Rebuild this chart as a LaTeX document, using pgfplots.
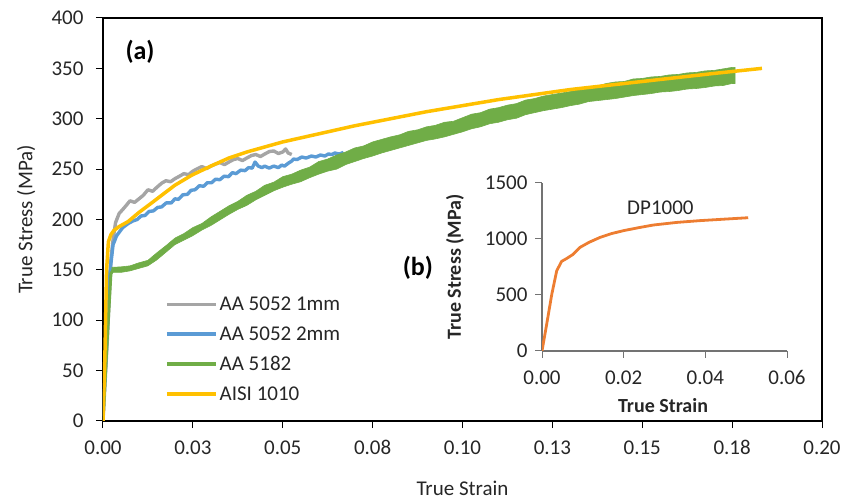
\documentclass[border=0pt]{standalone}
\usepackage{fontspec}
\setmainfont{Carlito}
\usepackage{pgfplots}
\pgfplotsset{compat=1.18}
\definecolor{cgray}{HTML}{A5A5A5}
\definecolor{cblue}{HTML}{5B9BD5}
\definecolor{cgreen}{HTML}{70AD47}
\definecolor{cyellow}{HTML}{FFC000}
\definecolor{corange}{HTML}{ED7D31}
\definecolor{ctext}{HTML}{262626}
\newcommand{\fs}{\fontsize{21}{25}\selectfont}
\begin{document}
\begin{tikzpicture}
\useasboundingbox (-103pt,-79pt) rectangle (740pt,421pt);
\begin{axis}[
  name=main,
  at={(0pt,0pt)}, anchor=south west,
  width=719pt, height=403pt, scale only axis,
  xmin=0, xmax=0.2, ymin=0, ymax=400,
  xtick={0,0.025,0.05,0.075,0.1,0.125,0.15,0.175,0.2},
  xticklabels={0.00,0.03,0.05,0.08,0.10,0.13,0.15,0.18,0.20},
  ytick={0,50,100,150,200,250,300,350,400},
  scaled ticks=false,
  axis lines=box,
  tick align=outside,
  xtick pos=bottom, ytick pos=left,
  major tick length=7pt,
  every tick/.style={black, line width=1pt},
  axis line style={black, line width=1.3pt},
  /pgf/number format/assume math mode=true,
  /pgf/number format/set thousands separator={},
  tick label style={font=\fs, text=ctext},
  xticklabel style={yshift=-9pt},
  yticklabel style={xshift=-9pt},
  xlabel={True Strain}, ylabel={True Stress (MPa)},
  label style={font=\fs, text=ctext},
  xlabel style={at={(axis description cs:0.5,-0.166)}, anchor=center},
  ylabel style={at={(axis description cs:-0.107,0.5)}, anchor=center},
  legend style={at={(axis description cs:0.082,0.318)}, anchor=north west,
    draw=none, fill=none, font=\fs, text=ctext, row sep=10.5pt},
  legend cell align=left,
  legend image code/.code={\draw[#1, line width=3.5pt] (0pt,0pt) -- (49pt,0pt);},
]
\addplot[forget plot, black, line width=2.8pt] coordinates {(0,400)(0.2,400)(0.2,0)};
\addplot[cgray, line width=3.4pt, line join=round] coordinates {
(0,0)(0.0012,80)(0.0022,160)(0.0028,180)(0.0035,197)(0.0045,206)(0.006,212)(0.0075,218.5)(0.0088,217)(0.01,220.5)(0.0112,224)(0.0125,229.5)(0.0138,228)(0.015,232)(0.0163,236)(0.0175,238.5)(0.0188,237.5)(0.02,240.5)(0.0213,243)(0.0225,245.5)(0.0238,244.5)(0.025,248)(0.0263,250.5)(0.0275,252.5)(0.0288,250.5)(0.03,253)(0.0313,255)(0.0325,256.5)(0.0338,254.5)(0.035,257)(0.0363,259.5)(0.0375,260.5)(0.0388,258.5)(0.04,261)(0.0413,263.5)(0.0425,264.5)(0.0438,262.5)(0.045,265)(0.0463,267.5)(0.0475,268)(0.0488,265.5)(0.05,267)(0.0508,270)(0.0515,266)(0.0525,264.5)
};
\addlegendentry{AA 5052 1mm}
\addplot[cblue, line width=3.4pt, line join=round] coordinates {
(0,5)(0.0008,60)(0.0019,147)(0.0028,175)(0.0038,184)(0.0055,192)(0.007,196)(0.0083,198.5)(0.0095,200)(0.0106,203.5)(0.0117,204)(0.0128,208)(0.014,208.5)(0.0152,212)(0.0163,212.5)(0.0176,216.5)(0.019,216.5)(0.02,220.5)(0.021,220)(0.0222,224.5)(0.0235,225)(0.0245,229)(0.0256,229.5)(0.0268,233.5)(0.028,233)(0.029,236.5)(0.0302,236.5)(0.0313,240)(0.0325,239.5)(0.0337,243)(0.0349,242.5)(0.036,246.5)(0.037,245.5)(0.0383,249)(0.0395,248.5)(0.0405,251.5)(0.0415,251)(0.0423,257)(0.0432,253)(0.0442,251.5)(0.045,253)(0.0462,251)(0.0475,253)(0.0488,251.5)(0.0497,254)(0.0505,253)(0.0516,256)(0.0525,258)(0.053,260)(0.054,259.5)(0.0553,262)(0.0565,261)(0.058,263)(0.0592,262)(0.0605,264)(0.0617,263)(0.0627,265)(0.0637,264.5)(0.0645,266)(0.0657,265)(0.0669,266.5)
};
\addlegendentry{AA 5052 2mm}
\addplot[cgreen, line width=3pt, line join=round] coordinates {
(0,0)(0.001,70)(0.0022,146)(0.0028,150)(0.005,150)(0.0075,151.5)(0.01,154)(0.0125,157)
};
\addlegendentry{AA 5182}
\addplot[forget plot, draw=cgreen, fill=cgreen, line width=0.6pt] coordinates {
(0.0025,152.5)(0.005,153)(0.0075,154)(0.01,157)(0.0125,159.5)(0.015,167)(0.0175,174)(0.02,181.5)(0.0225,186)(0.025,192)(0.0275,196)(0.03,202.5)(0.0325,208)(0.035,213.5)(0.0375,218)(0.04,224)(0.0425,228)(0.045,234)(0.0475,237)(0.05,242.5)(0.0525,245)(0.055,249)(0.0575,252)(0.06,257.5)(0.0625,260)(0.065,264)(0.0675,267)(0.07,271)(0.0725,273)(0.075,277)(0.0775,279.5)(0.08,282)(0.0825,284)(0.085,287.5)(0.0875,289)(0.09,292)(0.0925,293.5)(0.095,296.5)(0.0975,297.5)(0.1,301)(0.1025,304.5)(0.105,306)(0.1075,309.5)(0.11,311)(0.1125,313.5)(0.115,315)(0.1175,318.5)(0.12,320)(0.1225,322.5)(0.125,324)(0.1275,325.5)(0.13,327)(0.1325,329.5)(0.135,331)(0.1375,332.5)(0.14,335)(0.1425,336.5)(0.145,337)(0.1475,339.5)(0.15,340)(0.1525,341.5)(0.155,342)(0.1575,343.5)(0.16,344)(0.1625,345.5)(0.165,346)(0.1675,347.5)(0.17,348)(0.1725,349.5)(0.175,351)(0.1758,351)
(0.1758,335)(0.175,335)(0.1725,333)(0.17,332.5)(0.1675,331)(0.165,330)(0.1625,329.5)(0.16,328)(0.1575,327)(0.155,326.5)(0.1525,325)(0.15,324)(0.1475,323)(0.145,321.5)(0.1425,320)(0.14,319)(0.1375,318)(0.135,317)(0.1325,314.5)(0.13,313)(0.1275,311)(0.125,309.5)(0.1225,308)(0.12,306)(0.1175,304)(0.115,300.5)(0.1125,299)(0.11,296.5)(0.1075,295)(0.105,292)(0.1025,290)(0.1,287)(0.0975,284.5)(0.095,282)(0.0925,280)(0.09,278.5)(0.0875,276)(0.085,273.5)(0.0825,271)(0.08,268.5)(0.0775,266)(0.075,263)(0.0725,260.5)(0.07,257.5)(0.0675,254.5)(0.065,250)(0.0625,248)(0.06,245)(0.0575,241.5)(0.055,237.5)(0.0525,235)(0.05,232)(0.0475,228.5)(0.045,224)(0.0425,219.5)(0.04,214)(0.0375,210)(0.035,205)(0.0325,199.5)(0.03,194)(0.0275,189.5)(0.025,184)(0.0225,179.5)(0.02,175)(0.0175,167.5)(0.015,160)(0.0125,154)(0.01,151.5)(0.0075,149)(0.005,147.5)(0.0025,147.5)
} -- cycle;
\addplot[cyellow, line width=3.5pt, line join=round] coordinates {
(0,0)(0.0005,60)(0.001,150)(0.0015,178)(0.0022,185)(0.003,189)(0.0045,193)(0.007,198)(0.01,207)(0.013,215)(0.0163,224)(0.02,234)(0.0247,244)(0.03,253)(0.035,261)(0.04,267)(0.045,272)(0.05,277)(0.055,281)(0.06,285)(0.065,289)(0.07,293)(0.08,300)(0.09,307)(0.1,313)(0.11,319)(0.12,324)(0.13,329)(0.14,333)(0.15,337)(0.16,341)(0.17,345)(0.1833,350)
};
\addlegendentry{AISI 1010}
\node[font=\bfseries\fontsize{26}{30}\selectfont, text=black] at (rel axis cs:0.0515,0.916) {(a)};
\node[font=\bfseries\fontsize{26}{30}\selectfont, text=black] at (rel axis cs:0.438,0.38) {(b)};
\end{axis}
\begin{axis}[
  at={(439pt,70pt)}, anchor=south west,
  width=245pt, height=168pt, scale only axis,
  xmin=0, xmax=0.06, ymin=0, ymax=1500,
  xtick={0,0.02,0.04,0.06}, xticklabels={0.00,0.02,0.04,0.06},
  ytick={0,500,1000,1500},
  scaled ticks=false,
  axis lines*=left,
  tick align=outside,
  major tick length=7pt,
  every tick/.style={black!55, line width=1pt},
  axis line style={black!55, line width=1.2pt},
  /pgf/number format/assume math mode=true,
  /pgf/number format/set thousands separator={},
  tick label style={font=\fs, text=ctext},
  xticklabel style={yshift=-9pt},
  yticklabel style={xshift=-4pt},
  xlabel={True Strain}, ylabel={True Stress (MPa)},
  label style={font=\bfseries\fontsize{20}{24}\selectfont, text=ctext},
  xlabel style={at={(axis description cs:0.494,-0.327)}, anchor=center},
  ylabel style={at={(axis description cs:-0.355,0.5)}, anchor=center},
]
\addplot[corange, line width=2.8pt, line join=round] coordinates {
(0,0)(0.0012,250)(0.0024,507)(0.0036,716)(0.0048,800)(0.006,825)(0.0075,860)(0.0093,925)(0.0115,970)(0.0142,1014)(0.017,1048)(0.0199,1074)(0.0235,1100)(0.0273,1125)(0.033,1148)(0.0387,1164)(0.045,1178)(0.0505,1190)
};
\node[font=\fs, text=ctext] at (axis cs:0.029,1280) {DP1000};
\end{axis}
\draw[color=black, line width=1.5pt, line cap=square] (main.north west) -- (main.north east) -- (main.south east);
\end{tikzpicture}
\end{document}
